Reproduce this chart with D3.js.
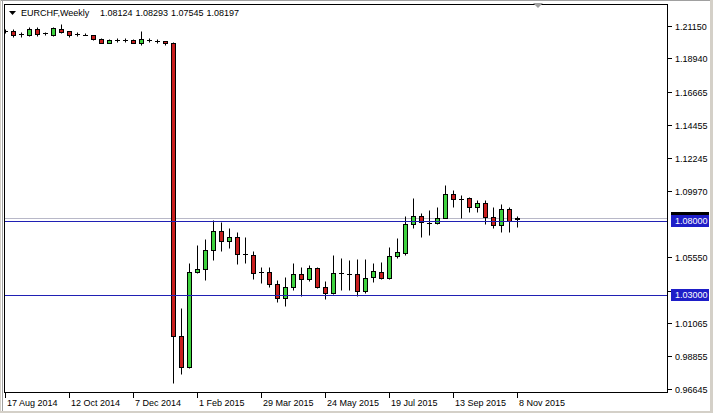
<!DOCTYPE html>
<html><head><meta charset="utf-8">
<script src="https://cdn.jsdelivr.net/npm/d3@7"></script>
<style>
body{margin:0;background:#fff}
svg{display:block}
text{font-family:"Liberation Sans",Arial,sans-serif;font-size:9px}
</style>
</head><body>
<svg id="c" width="713" height="413"></svg>
<script>
// ---- data (weekly EURCHF, 17 Aug 2014 .. 8 Nov 2015) ----
const symbol = "EURCHF,Weekly";
const lastOHLC = ["1.08124", "1.08293", "1.07545", "1.08197"];
const openP  = [1.20826,1.20813,1.20570,1.20503,1.20907,1.20637,1.20543,1.20948,1.20772,1.20610,
                1.20543,1.20503,1.20253,1.20003,1.20186,1.20206,1.20186,1.20003,1.20206,1.20138,
                1.20118,1.19990,1.00221,0.98109,1.04517,1.04719,1.06021,1.07303,1.06649,1.06878,
                1.05731,1.05684,1.04537,1.04558,1.03708,1.02763,1.03505,1.04402,1.04045,1.04787,
                1.03505,1.03101,1.04450,1.04423,1.04382,1.03256,1.04180,1.04558,1.04112,1.05616,
                1.05819,1.07755,1.08335,1.07863,1.07822,1.08200,1.09778,1.09461,1.09549,1.08901,
                1.09171,1.08267,1.07707,1.08787,1.08124];
const highP  = [1.20961,1.20907,1.20745,1.21042,1.21083,1.20745,1.21083,1.21244,1.20800,1.20725,
                1.20637,1.20543,1.20320,1.20233,1.20320,1.20341,1.20233,1.20813,1.20300,1.20233,
                1.20138,1.20050,1.02129,1.05165,1.06358,1.06743,1.08045,1.07930,1.07485,1.07215,
                1.06878,1.05974,1.04854,1.04895,1.03998,1.04180,1.05124,1.04895,1.05010,1.04895,
                1.03951,1.05684,1.05461,1.05347,1.05394,1.05394,1.05165,1.05232,1.06244,1.06831,
                1.08314,1.09508,1.08497,1.08719,1.08942,1.10405,1.10068,1.09731,1.09590,1.09394,
                1.09394,1.08901,1.09104,1.08942,1.08293];
const lowP   = [1.20658,1.20368,1.20408,1.20455,1.20455,1.20503,1.20455,1.20637,1.20408,1.20455,
                1.20503,1.20186,1.19963,1.19963,1.20051,1.20071,1.19963,1.19869,1.20051,1.20003,
                1.19828,0.97030,0.97637,0.98042,1.04450,1.03998,1.05347,1.05974,1.06136,1.05057,
                1.05165,1.04085,1.03775,1.03546,1.02534,1.02264,1.03323,1.02939,1.03951,1.03438,
                1.02696,1.03033,1.03323,1.03323,1.02939,1.03101,1.03883,1.04045,1.04045,1.05482,
                1.05684,1.07485,1.06898,1.07033,1.07755,1.08180,1.08901,1.08159,1.08605,1.08564,
                1.07755,1.07485,1.07215,1.07215,1.07545];
const closeP = [1.20826,1.20503,1.20575,1.20907,1.20590,1.20640,1.20975,1.20725,1.20543,1.20612,
                1.20541,1.20233,1.20003,1.20186,1.20188,1.20204,1.20003,1.20233,1.20208,1.20136,
                1.19963,1.00221,0.98109,1.04517,1.04740,1.06021,1.07303,1.06649,1.06878,1.05731,
                1.05720,1.04490,1.04530,1.03708,1.02784,1.03505,1.04402,1.04045,1.04787,1.03505,
                1.03101,1.04450,1.04460,1.04420,1.03256,1.04112,1.04625,1.04112,1.05616,1.05906,
                1.07755,1.08335,1.07890,1.07860,1.08200,1.09778,1.09441,1.09459,1.08901,1.09171,
                1.08267,1.07707,1.08787,1.07997,1.08197];
const dateLabels = ["17 Aug 2014","12 Oct 2014","7 Dec 2014","1 Feb 2015","29 Mar 2015",
                    "24 May 2015","19 Jul 2015","13 Sep 2015","8 Nov 2015"];
const dateLabelIdx = [0,8,16,24,32,40,48,56,64];
const priceTicks = [1.21150,1.18940,1.16665,1.14455,1.12245,1.09970,1.05550,1.03275,1.01065,0.98855,0.96645];
const levels = [1.08000, 1.03000];
const bidPrice = 1.08197;

// ---- layout ----
const svg = d3.select("#c");
const plotL = 4, plotR = 667, plotT = 4, plotB = 392;
const x = d3.scaleLinear().domain([0, 64]).range([5.5, 517.5]);
const y = d3.scaleLinear().domain([0.96645, 1.21150]).range([389, 25.7]);
const py = v => Math.round(y(v)) + 0.5;

// window background / borders
svg.append("rect").attr("x",0).attr("y",0).attr("width",713).attr("height",413).attr("fill","#d4d0c8");
svg.append("rect").attr("x",1).attr("y",1).attr("width",709).attr("height",410).attr("fill","#fff");
svg.append("line").attr("x1",1).attr("x2",710).attr("y1",0.5).attr("y2",0.5).attr("stroke","#a0a0a0");
svg.append("line").attr("x1",2.5).attr("x2",2.5).attr("y1",1).attr("y2",411).attr("stroke","#a0a0a0");

svg.append("defs").append("clipPath").attr("id","clip")
  .append("rect").attr("x",plotL+1).attr("y",plotT+1).attr("width",plotR-plotL-1).attr("height",plotB-plotT-1);

// bid line
svg.append("line").attr("x1",plotL).attr("x2",plotR).attr("y1",py(bidPrice)).attr("y2",py(bidPrice))
  .attr("stroke","#b8b8c8");

// candles
const data = openP.map((o,i)=>({i,o,h:highP[i],l:lowP[i],c:closeP[i]}));
const g = svg.append("g").attr("clip-path","url(#clip)");
data.forEach(d=>{
  const cx = x(d.i);
  g.append("line").attr("x1",cx).attr("x2",cx).attr("y1",py(d.h)).attr("y2",py(d.l))
    .attr("stroke","#000").attr("stroke-width",1);
  const yo = py(d.o), yc = py(d.c);
  if (Math.abs(yo-yc) < 1) {
    g.append("line").attr("x1",cx-2.5).attr("x2",cx+2.5).attr("y1",yo).attr("y2",yo)
      .attr("stroke","#000");
  } else {
    const top = Math.min(yo,yc), bot = Math.max(yo,yc);
    g.append("rect").attr("x",cx-2).attr("width",4).attr("y",top).attr("height",bot-top)
      .attr("fill", d.c > d.o ? "#3ed23e" : "#c81e1e").attr("stroke","#000").attr("stroke-width",1);
  }
});

// horizontal level lines
levels.forEach(v=>{
  svg.append("line").attr("x1",plotL).attr("x2",plotR).attr("y1",py(v)).attr("y2",py(v))
    .attr("stroke","#2020b4");
});

// frame
svg.append("line").attr("x1",plotL).attr("x2",plotR+0.5).attr("y1",plotT+0.5).attr("y2",plotT+0.5).attr("stroke","#000");
svg.append("line").attr("x1",plotL+0.5).attr("x2",plotL+0.5).attr("y1",plotT).attr("y2",plotB+1).attr("stroke","#000");
svg.append("line").attr("x1",plotR+0.5).attr("x2",plotR+0.5).attr("y1",plotT).attr("y2",plotB+1).attr("stroke","#000");
svg.append("line").attr("x1",plotL).attr("x2",plotR+1).attr("y1",plotB+0.5).attr("y2",plotB+0.5).attr("stroke","#000");

// chart shift marker
svg.append("path").attr("d","M533,3 L543,3 L538,8 Z").attr("fill","#a0a0a0");

// price axis
priceTicks.forEach(v=>{
  const yy = py(v);
  svg.append("line").attr("x1",plotR+1).attr("x2",plotR+5).attr("y1",yy).attr("y2",yy).attr("stroke","#000");
  svg.append("text").attr("x",675).attr("y",yy).attr("dy","0.35em").attr("fill","#000").text(v.toFixed(5));
});

// bid label (black) then level labels (blue)
function tag(v, fill, txt){
  const yy = y(v);
  svg.append("rect").attr("x",671).attr("y",Math.round(yy)-6).attr("width",38).attr("height",12).attr("fill",fill);
  svg.append("text").attr("x",675).attr("y",Math.round(yy)).attr("dy","0.35em").attr("fill","#fff").text(txt);
}
tag(bidPrice, "#000", bidPrice.toFixed(5));
levels.forEach(v=>tag(v, "#1e1ec8", v.toFixed(5)));

// date axis
dateLabelIdx.forEach((idx,k)=>{
  const xx = Math.round(x(idx)-0.5)+0.5;
  svg.append("line").attr("x1",xx).attr("x2",xx).attr("y1",plotB+1).attr("y2",plotB+6).attr("stroke","#000");
  svg.append("text").attr("x",xx+1.5).attr("y",406).attr("fill","#000").text(dateLabels[k]);
});

// title
svg.append("path").attr("d","M9,11 L16,11 L12.5,15 Z").attr("fill","#000");
svg.append("text").attr("x",21).attr("y",16).attr("fill","#000").text(symbol);
lastOHLC.forEach((t,k)=>{
  svg.append("text").attr("x",100+k*35.5).attr("y",16).attr("fill","#000").text(t);
});
</script>
</body></html>
